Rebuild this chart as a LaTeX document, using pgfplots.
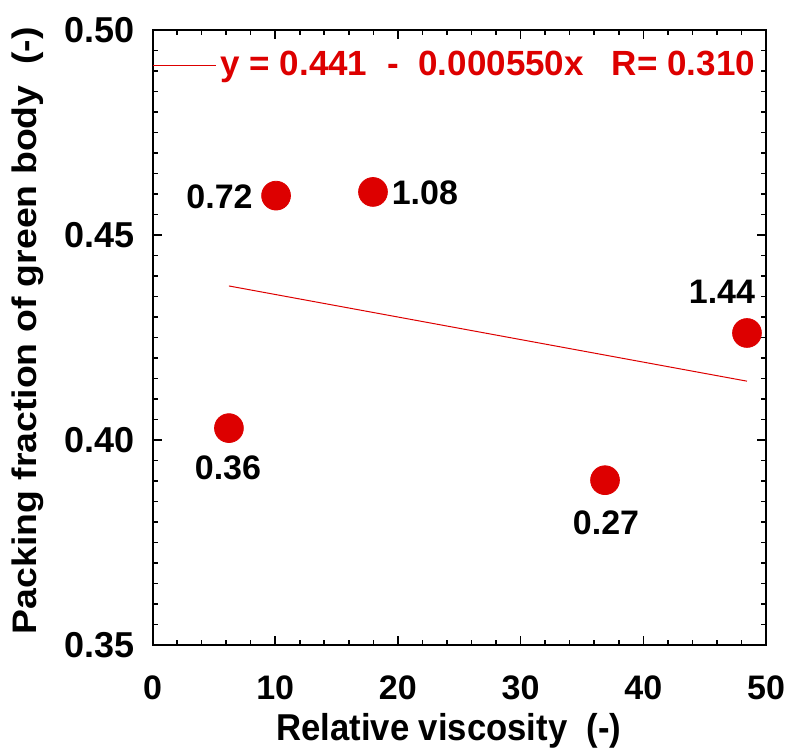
\documentclass[border=0pt]{standalone}
\usepackage{fontspec}
\setmainfont{Liberation Sans}
\usepackage{graphicx}
\usepackage{pgfplots}
\pgfplotsset{compat=1.18}
\definecolor{myred}{RGB}{221,0,0}
\begin{document}
\begin{tikzpicture}
\begin{axis}[
  name=ax,
  scale only axis, width=306.75pt, height=307.5pt,
  xmin=0, xmax=50, ymin=0.35, ymax=0.50,
  xtick={0,10,20,30,40,50}, minor x tick num=4,
  ytick={0.35,0.40,0.45,0.50}, minor y tick num=9,
  /pgf/number format/assume math mode=true,
  tick align=inside, xtick pos=both, ytick pos=both,
  major tick length=4.5pt, minor tick length=2.5pt,
  every tick/.style={black, line width=0.8pt},
  axis line style={line width=1pt},
  xticklabel style={font=\fontsize{17}{17}\selectfont\bfseries, anchor=north, inner sep=0pt, yshift=-15pt},
  yticklabel style={/pgf/number format/fixed, /pgf/number format/fixed zerofill, /pgf/number format/precision=2,
    font=\fontsize{18}{18}\selectfont\bfseries, anchor=east, inner sep=0pt, xshift=-9pt},
  xlabel={\scalebox{1.02}[1.1]{Relative viscosity\ \ (-)}},
  ylabel={\scalebox{1.10}[1]{Packing fraction of green body\ \ (-)}},
  xlabel style={font=\fontsize{17}{17}\selectfont\bfseries, at={(axis description cs:0.483,-0.1106)}, anchor=north, inner sep=0pt},
  ylabel style={font=\fontsize{17}{17}\selectfont\bfseries, at={(axis description cs:-0.176,0.511)}, anchor=south, inner sep=0pt},
  legend style={at={(axis description cs:0,0.943)}, anchor=west, draw=none, fill=none, inner sep=0pt, outer sep=0pt,
    font=\fontsize{17.5}{17.5}\selectfont\bfseries, text=myred, /tikz/every even column/.style={column sep=1pt}},
  legend cell align=left,
  legend image code/.code={\draw[#1] (0pt,0pt) -- (31.5pt,0pt);},
  clip=false,
]
\addplot[myred, line width=0.5pt] coordinates {(6.23,0.43757) (48.45,0.41435)};
\addlegendentry{y = 0.441\hspace{5pt} - \hspace{5pt}0.000550x\hspace{14pt}R= 0.310}
\addplot[only marks, mark=*, mark size=7.2pt, mark options={fill=myred, draw=myred}, forget plot] coordinates {
  (6.23,0.4029) (10.07,0.4596) (17.97,0.4605) (36.88,0.3902) (48.45,0.4261)};
\node[font=\fontsize{17}{17}\selectfont\bfseries] at (axis cs:6.15,0.3932) {0.36};
\node[font=\fontsize{17}{17}\selectfont\bfseries] at (axis cs:5.46,0.4594) {0.72};
\node[font=\fontsize{17}{17}\selectfont\bfseries] at (axis cs:22.2,0.4602) {1.08};
\node[font=\fontsize{17}{17}\selectfont\bfseries] at (axis cs:36.96,0.3798) {0.27};
\node[font=\fontsize{17}{17}\selectfont\bfseries] at (axis cs:46.41,0.4361) {1.44};
\end{axis}
\pgfresetboundingbox
\path[use as bounding box] ([shift={(-76.25pt,-52pt)}]ax.south west) rectangle ([shift={(11.5pt,15pt)}]ax.north east);
\end{tikzpicture}
\end{document}
